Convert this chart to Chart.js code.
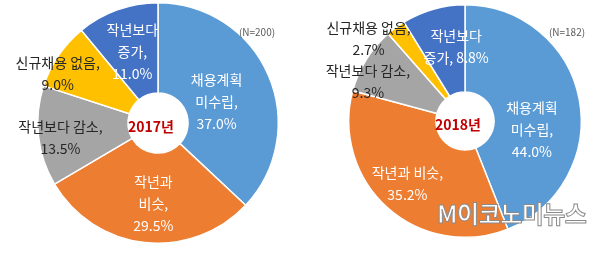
<!DOCTYPE html>
<html>
<head>
<meta charset="utf-8">
<script src="https://cdn.jsdelivr.net/npm/chart.js@4.4.0/dist/chart.umd.min.js"></script>
<style>
  body { margin: 0; background: #fff; }
  #wrap { position: relative; width: 600px; height: 256px; overflow: hidden; font-family: "Noto Sans CJK KR", sans-serif; }
  canvas { position: absolute; top: 0; }
  #c2017 { left: 0; }
  #c2018 { left: 300px; }
  .mark { position: absolute; left: 437px; top: 198px; font: bold 24px/30px "Noto Sans CJK KR", sans-serif; color: #fff;
    -webkit-text-stroke: 1px #8a8a8a; white-space: nowrap; letter-spacing: -0.5px; }
  .mark span { color: #2f4f8f; -webkit-text-stroke: 0; font-size: 11px; vertical-align: middle; margin-right: 3px; }
</style>
</head>
<body>
<div id="wrap">
  <canvas id="c2017" width="300" height="256"></canvas>
  <canvas id="c2018" width="300" height="256"></canvas>
  <div class="mark">M이코노미뉴스</div>
</div>
<script>
// categories, clockwise from 12 o'clock
const categories = ['채용계획 미수립', '작년과 비슷', '작년보다 감소', '신규채용 없음', '작년보다 증가'];
const values2017 = [37.0, 29.5, 13.5, 9.0, 11.0];
const values2018 = [44.0, 35.2, 9.3, 2.7, 8.8];
const years = ['2017년', '2018년'];
const sampleSizes = ['(N=200)', '(N=182)'];

// how each label is broken into lines
const lines2017 = [['채용계획', '미수립,'], ['작년과', '비슷,'], ['작년보다 감소,'], ['신규채용 없음,'], ['작년보다', '증가,']];
const lines2018 = [['채용계획', '미수립,'], ['작년과 비슷,'], ['작년보다 감소,'], ['신규채용 없음,'], ['작년보다', '증가, ']];

const colors = ['#5B9BD5', '#ED7D31', '#A5A5A5', '#FFC000', '#4472C4'];
const textColors = ['#fff', '#fff', '#262626', '#262626', '#fff'];

// label placement: [fraction of radius, angle shift in degrees]
const place2017 = [[0.52, 3], [0.67, -3], [0.82, -2], [0.93, -8], [0.63, 0]];
const place2018 = [[0.58, 18], [0.73, 1], [0.90, -10], [1.09, -13], [0.64, 9]];

const labelPlugin = {
  id: 'sliceLabels',
  afterDatasetsDraw(chart, args, opts) {
    const ctx = chart.ctx;
    const meta = chart.getDatasetMeta(0);
    const vals = chart.data.datasets[0].data;
    ctx.save();
    ctx.textAlign = 'center';
    ctx.textBaseline = 'middle';
    meta.data.forEach((arc, i) => {
      const p = arc.getProps(['x', 'y', 'startAngle', 'endAngle', 'outerRadius'], true);
      const mid = (p.startAngle + p.endAngle) / 2 + opts.place[i][1] * Math.PI / 180;
      const r = p.outerRadius * opts.place[i][0];
      const cx = p.x + Math.cos(mid) * r;
      const cy = p.y + Math.sin(mid) * r;
      const txt = opts.lines[i].slice();
      const pct = vals[i].toFixed(1) + '%';
      if (txt[txt.length - 1].endsWith(' ')) txt[txt.length - 1] += pct; else txt.push(pct);
      const lh = 22;
      const y0 = cy - (txt.length - 1) * lh / 2;
      ctx.fillStyle = textColors[i];
      ctx.font = '14px "Noto Sans CJK KR", sans-serif';
      txt.forEach((t, k) => ctx.fillText(t, cx, y0 + k * lh));
    });
    // center year
    const a = meta.data[0];
    ctx.fillStyle = '#C00000';
    ctx.font = 'bold 14px "Noto Sans CJK KR", sans-serif';
    ctx.fillText(opts.year, a.x - 7, a.y + 4);
    // sample size
    ctx.fillStyle = '#595959';
    ctx.font = '10px "Noto Sans CJK KR", sans-serif';
    ctx.fillText(opts.n, opts.nx, 32);
    ctx.restore();
  }
};

function makeChart(id, values, lines, place, year, n, nx, padding) {
  return new Chart(document.getElementById(id), {
    type: 'doughnut',
    data: {
      labels: categories,
      datasets: [{
        data: values,
        backgroundColor: colors,
        borderColor: '#fff',
        borderWidth: 1.5
      }]
    },
    options: {
      responsive: false,
      animation: false,
      cutout: '25%',
      layout: { padding: padding },
      plugins: {
        legend: { display: false },
        tooltip: { enabled: false },
        sliceLabels: { lines: lines, place: place, year: year, n: n, nx: nx }
      }
    },
    plugins: [labelPlugin]
  });
}

makeChart('c2017', values2017, lines2017, place2017, years[0], sampleSizes[0], 257, { left: 37, right: 21, top: 2, bottom: 12 });
makeChart('c2018', values2018, lines2018, place2018, years[1], sampleSizes[1], 267, { left: 48, right: 18, top: 4, bottom: 18 });
</script>
</body>
</html>
